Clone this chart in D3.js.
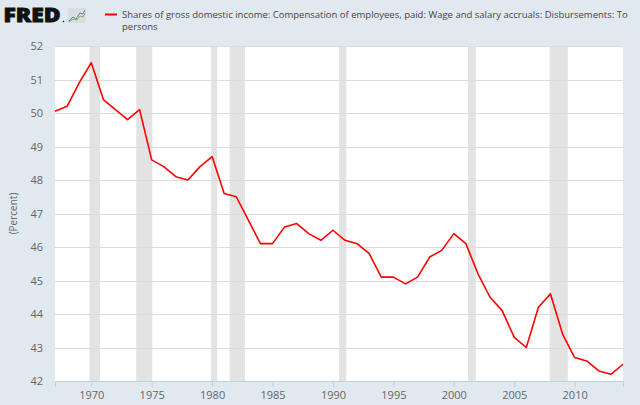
<!DOCTYPE html>
<html>
<head>
<meta charset="utf-8">
<script src="https://cdn.jsdelivr.net/npm/d3@7"></script>
<style>
  body { margin: 0; background: #e1e9f0; }
  svg { display: block; }
  text { font-family: "Open Sans", "DejaVu Sans", sans-serif; }
</style>
</head>
<body>
<div id="chart"></div>
<script>
// annual values
const years = [1967, 1968, 1969, 1970, 1971, 1972, 1973, 1974, 1975, 1976,
               1977, 1978, 1979, 1980, 1981, 1982, 1983, 1984, 1985, 1986,
               1987, 1988, 1989, 1990, 1991, 1992, 1993, 1994, 1995, 1996,
               1997, 1998, 1999, 2000, 2001, 2002, 2003, 2004, 2005, 2006,
               2007, 2008, 2009, 2010, 2011, 2012, 2013, 2014];
const values = [50.05, 50.2, 50.9, 51.5, 50.4, 50.1, 49.8, 50.1, 48.6, 48.4,
                48.1, 48.0, 48.4, 48.7, 47.6, 47.5, 46.8, 46.1, 46.1, 46.6,
                46.7, 46.4, 46.2, 46.5, 46.2, 46.1, 45.8, 45.1, 45.1, 44.9,
                45.1, 45.7, 45.9, 46.4, 46.1, 45.2, 44.5, 44.1, 43.3, 43.0,
                44.2, 44.6, 43.4, 42.7, 42.6, 42.3, 42.2, 42.5];

// recession shading (decimal years)
const rec_start = [1969.85, 1973.72, 1979.92, 1981.45, 1990.5, 2001.17, 2007.93];
const rec_end   = [1970.72, 1975.05, 1980.42, 1982.72, 1991.1, 2001.82, 2009.43];

const y_ticks = [42, 43, 44, 45, 46, 47, 48, 49, 50, 51, 52];
const x_ticks = [1970, 1975, 1980, 1985, 1990, 1995, 2000, 2005, 2010];

const series_name = "Shares of gross domestic income: Compensation of employees, paid: Wage and salary accruals: Disbursements: To";
const series_name2 = "persons";
const y_label = "(Percent)";

let width = 640;
let height = 405;

let plot_left = 55;
let plot_right = 623;
let plot_top = 46;
let plot_bottom = 381;

let svg = d3.select("#chart")
    .append("svg")
    .attr("width", width)
    .attr("height", height);

svg.append("rect")
    .attr("width", width)
    .attr("height", height)
    .attr("fill", "#e1e9f0");

let xScale = d3.scaleLinear()
    .domain([1967, 2014])
    .range([plot_left, plot_right]);

let yScale = d3.scaleLinear()
    .domain([42, 52])
    .range([plot_bottom, plot_top]);

// plot background
svg.append("rect")
    .attr("x", plot_left)
    .attr("y", plot_top)
    .attr("width", plot_right - plot_left)
    .attr("height", plot_bottom - plot_top)
    .attr("fill", "white");

// recession bars
svg.selectAll(".recession")
    .data(rec_start)
    .enter()
    .append("rect")
    .attr("class", "recession")
    .attr("x", function(d) { return xScale(d); })
    .attr("y", plot_top)
    .attr("width", function(d, i) { return xScale(rec_end[i]) - xScale(d); })
    .attr("height", plot_bottom - plot_top)
    .attr("fill", "#e3e3e3");

// horizontal grid
svg.selectAll(".grid")
    .data(y_ticks)
    .enter()
    .append("line")
    .attr("class", "grid")
    .attr("x1", plot_left)
    .attr("x2", plot_right)
    .attr("y1", function(d) { return Math.round(yScale(d)) + 0.5; })
    .attr("y2", function(d) { return Math.round(yScale(d)) + 0.5; })
    .attr("stroke", "#dcdcdc")
    .attr("stroke-width", 1);

// y axis labels
let y_axis = svg.append("g")
    .attr("transform", "translate(" + (plot_left - 12) + ",0)")
    .call(d3.axisLeft(yScale).tickValues(y_ticks).tickSize(0).tickPadding(0));
y_axis.select(".domain").remove();
y_axis.selectAll("text")
    .attr("font-size", "11px")
    .attr("font-family", "'Open Sans', sans-serif")
    .attr("fill", "#666666");

// x axis
let x_axis = svg.append("g")
    .attr("transform", "translate(0," + plot_bottom + ")")
    .call(d3.axisBottom(xScale).tickValues(x_ticks).tickFormat(d3.format("d")).tickSize(6).tickPadding(4));
x_axis.select(".domain")
    .attr("stroke", "#c0d0e0");
x_axis.selectAll("line")
    .attr("stroke", "#c0d0e0");
x_axis.selectAll("text")
    .attr("font-size", "11px")
    .attr("font-family", "'Open Sans', sans-serif")
    .attr("fill", "#666666");

svg.append("text")
    .attr("transform", "translate(17," + ((plot_top + plot_bottom) / 2) + ") rotate(-90)")
    .attr("text-anchor", "middle")
    .attr("font-size", "10px")
    .attr("fill", "#666666")
    .text(y_label);

// series line
let line = d3.line()
    .x(function(d, i) { return xScale(years[i]); })
    .y(function(d) { return yScale(d); });

svg.append("path")
    .datum(values)
    .attr("d", line)
    .attr("fill", "none")
    .attr("stroke", "#ff0000")
    .attr("stroke-width", 1.6)
    .attr("stroke-linejoin", "round");

// FRED logo
svg.append("text")
    .attr("x", 3.5)
    .attr("y", 22)
    .attr("font-family", "'DejaVu Sans', sans-serif")
    .attr("font-weight", "900")
    .attr("font-size", "20px")
    .attr("textLength", 57)
    .attr("lengthAdjust", "spacingAndGlyphs")
    .attr("fill", "#111111")
    .attr("stroke", "#111111")
    .attr("stroke-width", 0.9)
    .text("FRED");

svg.append("circle")
    .attr("cx", 63.5)
    .attr("cy", 21.5)
    .attr("r", 0.8)
    .attr("fill", "#111111");

let icon = svg.append("g").attr("transform", "translate(68,8)");
icon.append("rect")
    .attr("width", 18)
    .attr("height", 15)
    .attr("fill", "#d8dde2");
icon.append("polyline")
    .attr("points", "1,13 5,9 8,11 12,5 15,6 17,2")
    .attr("fill", "none")
    .attr("stroke", "#5b87b8")
    .attr("stroke-width", 1);
icon.append("polyline")
    .attr("points", "1,14 5,11 9,12 12,8 15,9 17,5")
    .attr("fill", "none")
    .attr("stroke", "#7cae5e")
    .attr("stroke-width", 1);

// legend
svg.append("line")
    .attr("x1", 105)
    .attr("x2", 117)
    .attr("y1", 14.5)
    .attr("y2", 14.5)
    .attr("stroke", "#ff0000")
    .attr("stroke-width", 2);

let legend1 = svg.append("text")
    .attr("x", 122)
    .attr("y", 18)
    .attr("font-size", "11px")
    .attr("fill", "#444444")
    .text(series_name);

// shrink the font so the first line ends where the reference's does
let natural = legend1.node().getComputedTextLength();
let legend_size = Math.min(11, 11 * 506 / natural);
legend1.attr("font-size", legend_size + "px");

svg.append("text")
    .attr("x", 122)
    .attr("y", 29.5)
    .attr("font-size", legend_size + "px")
    .attr("fill", "#444444")
    .text(series_name2);
</script>
</body>
</html>
